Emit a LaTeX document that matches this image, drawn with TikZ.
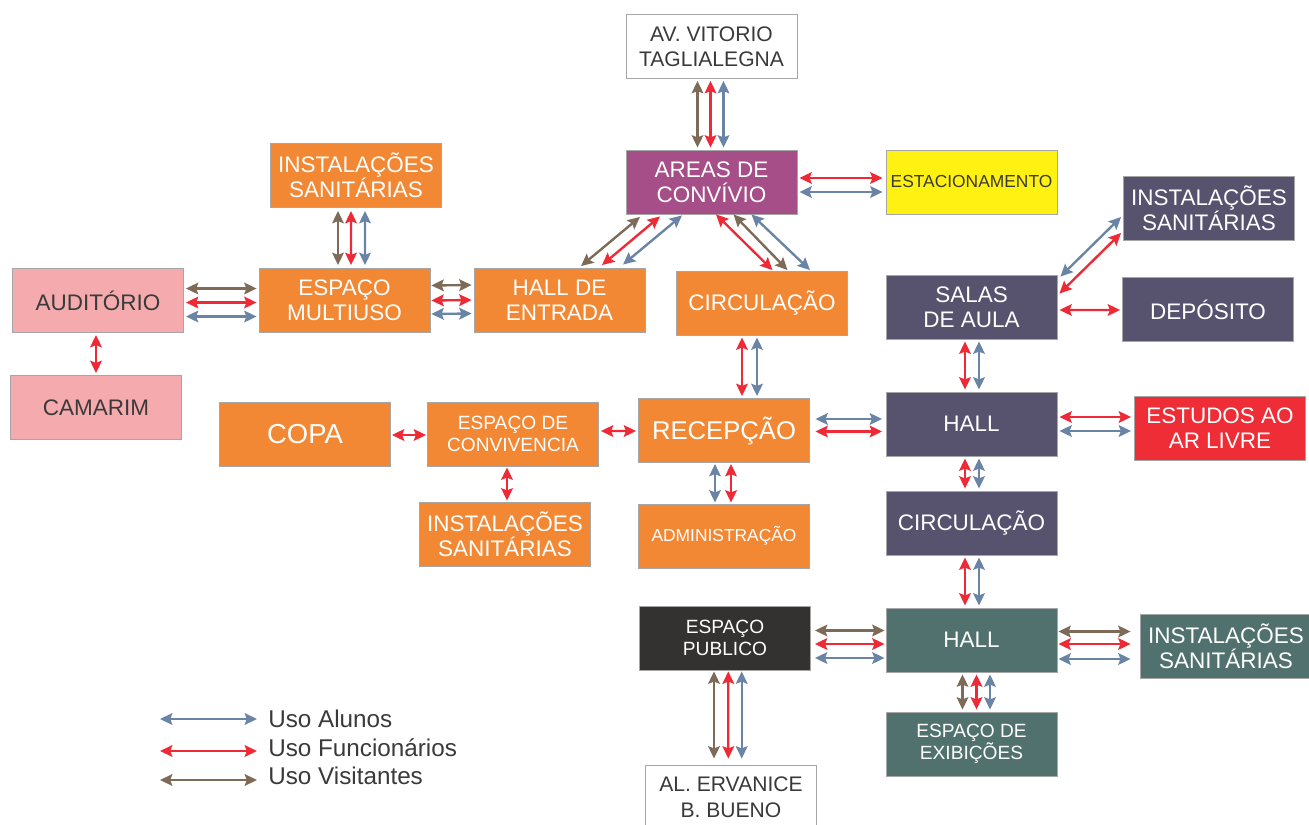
\documentclass[tikz,border=0pt]{standalone}
\usepackage{fontspec}
\setmainfont{Liberation Sans}
\usetikzlibrary{arrows.meta,calc}
\definecolor{corLaranja}{HTML}{F28834}
\definecolor{corRosa}{HTML}{F5AAAD}
\definecolor{corRoxo}{HTML}{A54E87}
\definecolor{corAmarelo}{HTML}{FFF212}
\definecolor{corArdosia}{HTML}{57536F}
\definecolor{corVermelho}{HTML}{EE2D36}
\definecolor{corVerde}{HTML}{50716E}
\definecolor{corEscuro}{HTML}{333230}
\definecolor{corTexto}{HTML}{3A3A3A}
\definecolor{corAlu}{HTML}{6A84A6}
\definecolor{corFun}{HTML}{EE2A36}
\definecolor{corVis}{HTML}{7D6B57}
\begin{document}
\begin{tikzpicture}[x=0.02cm,y=-0.02cm,
	sala/.style={draw=black!35,line width=0.5pt,minimum width=3.42cm,minimum height=1.28cm,inner sep=0pt,align=center,text=white,font=\fontsize{12.8}{14.4}\selectfont},
	laranja/.style={sala,fill=corLaranja},
	rosa/.style={sala,fill=corRosa,text=corTexto},
	roxo/.style={sala,fill=corRoxo},
	amarelo/.style={sala,fill=corAmarelo,text=corTexto},
	ardosia/.style={sala,fill=corArdosia},
	vermelho/.style={sala,fill=corVermelho},
	verde/.style={sala,fill=corVerde},
	escuro/.style={sala,fill=corEscuro},
	rua/.style={sala,fill=white,text=corTexto,font=\fontsize{12}{14.5}\selectfont},
	pequeno/.style={font=\fontsize{10.9}{12.4}\selectfont},
	minimo/.style={font=\fontsize{9.9}{12}\selectfont},
	seta/.style={line width=1.35pt,>={Stealth[length=7pt,width=6.6pt,inset=1.2pt]},<->},
	alu/.style={seta,draw=corAlu},
	fun/.style={seta,draw=corFun},
	vis/.style={seta,draw=corVis}]
	\useasboundingbox (0,0) rectangle (1309,825);
	\node[rua] (av) at (711.5,46.5) {AV. VITORIO\\TAGLIALEGNA};
	\node[roxo] (areas) at (711.5,182) {AREAS DE\\CONVÍVIO};
	\node[amarelo,minimo] (estac) at (971.5,182) {ESTACIONAMENTO};
	\node[laranja] (instl1) at (356,175.5) {INSTALAÇÕES\\SANITÁRIAS};
	\node[rosa] (aud) at (98,300.5) {AUDITÓRIO};
	\node[laranja] (multi) at (344.5,300.5) {ESPAÇO\\MULTIUSO};
	\node[laranja] (halle) at (559.5,300) {HALL DE\\ENTRADA};
	\node[laranja] (circ1) at (762,303) {CIRCULAÇÃO};
	\node[rosa] (camarim) at (96,407.5) {CAMARIM};
	\node[laranja,font=\fontsize{15.6}{18}\selectfont] (copa) at (305,434) {COPA};
	\node[laranja,pequeno] (conv) at (513,434) {ESPAÇO DE\\CONVIVENCIA};
	\node[laranja,font=\fontsize{14.6}{17}\selectfont] (recep) at (724,430.5) {RECEPÇÃO};
	\node[laranja] (instl2) at (505,534) {INSTALAÇÕES\\SANITÁRIAS};
	\node[laranja,minimo] (admin) at (724,536) {ADMINISTRAÇÃO};
	\node[ardosia] (salas) at (971.5,307) {SALAS\\DE AULA};
	\node[ardosia] (instl3) at (1209,208) {INSTALAÇÕES\\SANITÁRIAS};
	\node[ardosia] (depos) at (1208,309.5) {DEPÓSITO};
	\node[ardosia] (hall1) at (971.5,424) {HALL};
	\node[vermelho] (estud) at (1220,428) {ESTUDOS AO\\AR LIVRE};
	\node[ardosia] (circ2) at (971.5,523) {CIRCULAÇÃO};
	\node[verde] (hall2) at (971.5,640) {HALL};
	\node[escuro,pequeno] (pub) at (725,638) {ESPAÇO\\PUBLICO};
	\node[verde] (instl4) at (1226,646) {INSTALAÇÕES\\SANITÁRIAS};
	\node[verde,pequeno] (exib) at (971.5,744) {ESPAÇO DE\\EXIBIÇÕES};
	\node[rua] (alerv) at (731,797) {AL. ERVANICE\\B. BUENO};
	\draw[vis] ($(av.south)+(-14,2)$) -- ($(areas.north)+(-14,-2)$);
	\draw[fun] ($(av.south)+(-1,2)$) -- ($(areas.north)+(-1,-2)$);
	\draw[alu] ($(av.south)+(12,2)$) -- ($(areas.north)+(12,-2)$);
	\draw[fun] ($(areas.east)+(2,-4)$) -- ($(estac.west)+(-3,-4)$);
	\draw[alu] ($(areas.east)+(2,10)$) -- ($(estac.west)+(-3,10)$);
	\draw[vis] ($(instl1.south)+(-18,3)$) -- ($(multi.north)+(-6.5,-3)$);
	\draw[fun] ($(instl1.south)+(-5,3)$) -- ($(multi.north)+(6.5,-3)$);
	\draw[alu] ($(instl1.south)+(9,3)$) -- ($(multi.north)+(20.5,-3)$);
	\draw[vis] ($(aud.east)+(2,-12)$) -- ($(multi.west)+(-2,-12)$);
	\draw[fun] ($(aud.east)+(2,2)$) -- ($(multi.west)+(-2,2)$);
	\draw[alu] ($(aud.east)+(2,16)$) -- ($(multi.west)+(-2,16)$);
	\draw[vis] ($(multi.east)+(1,-15)$) -- ($(halle.west)+(-2,-15)$);
	\draw[fun] ($(multi.east)+(1,0)$) -- ($(halle.west)+(-2,0)$);
	\draw[alu] ($(multi.east)+(1,13.5)$) -- ($(halle.west)+(-2,13.5)$);
	\draw[fun] ($(aud.south)+(-2,2)$) -- ($(camarim.north)+(0,-2)$);
	\draw[vis] ($(halle.north)+(21.5,-1.5)$) -- ($(areas.south)+(-71.5,2.5)$);
	\draw[fun] ($(halle.north)+(42.5,-2.5)$) -- ($(areas.south)+(-51.5,2)$);
	\draw[alu] ($(halle.north)+(63.5,-3)$) -- ($(areas.south)+(-29.5,1)$);
	\draw[fun] ($(areas.south)+(4.5,0)$) -- ($(circ1.north)+(10.5,-0.5)$);
	\draw[vis] ($(areas.south)+(22,0)$) -- ($(circ1.north)+(25.5,-0.5)$);
	\draw[alu] ($(areas.south)+(40,0)$) -- ($(circ1.north)+(48,-0.5)$);
	\draw[fun] ($(circ1.south)+(-20,2)$) -- ($(recep.north)+(18,-2)$);
	\draw[alu] ($(circ1.south)+(-5,2)$) -- ($(recep.north)+(33,-2)$);
	\draw[fun] ($(conv.east)+(2,-3)$) -- ($(recep.west)+(-2,0.5)$);
	\draw[fun] ($(copa.east)+(1,1)$) -- ($(conv.west)+(-1,1)$);
	\draw[fun] ($(conv.south)+(-6,1)$) -- ($(instl2.north)+(2,-1)$);
	\draw[alu] ($(recep.south)+(-9,1)$) -- ($(admin.north)+(-9,-1)$);
	\draw[fun] ($(recep.south)+(7,1)$) -- ($(admin.north)+(7,-1)$);
	\draw[alu] ($(recep.east)+(5.5,-11.5)$) -- ($(hall1.west)+(-3.5,-5)$);
	\draw[fun] ($(recep.east)+(5.5,1)$) -- ($(hall1.west)+(-3.5,7.5)$);
	\draw[alu] ($(salas.north east)+(3,2)$) -- ($(instl3.west)+(-2,9)$);
	\draw[fun] ($(salas.north east)+(2,19)$) -- ($(instl3.west)+(-2,25)$);
	\draw[fun] ($(salas.east)+(2,3)$) -- ($(depos.west)+(-2,0.5)$);
	\draw[fun] ($(salas.south)+(-6.5,2)$) -- ($(hall1.north)+(-6.5,-2)$);
	\draw[alu] ($(salas.south)+(7.5,2)$) -- ($(hall1.north)+(7.5,-2)$);
	\draw[fun] ($(hall1.east)+(2,-7)$) -- ($(estud.west)+(-3,-11)$);
	\draw[alu] ($(hall1.east)+(2,7)$) -- ($(estud.west)+(-3,3)$);
	\draw[fun] ($(hall1.south)+(-6.5,2)$) -- ($(circ2.north)+(-6.5,-2)$);
	\draw[alu] ($(hall1.south)+(7.5,2)$) -- ($(circ2.north)+(7.5,-2)$);
	\draw[fun] ($(circ2.south)+(-6.5,2)$) -- ($(hall2.north)+(-6.5,-2)$);
	\draw[alu] ($(circ2.south)+(7.5,2)$) -- ($(hall2.north)+(7.5,-2)$);
	\draw[vis] ($(pub.east)+(4,-7.5)$) -- ($(hall2.west)+(-1,-9.5)$);
	\draw[fun] ($(pub.east)+(4,6)$) -- ($(hall2.west)+(-1,4)$);
	\draw[alu] ($(pub.east)+(4,20)$) -- ($(hall2.west)+(-1,18)$);
	\draw[vis] ($(hall2.east)+(1,-8.5)$) -- ($(instl4.west)+(-9.5,-14.5)$);
	\draw[fun] ($(hall2.east)+(1,4)$) -- ($(instl4.west)+(-9.5,-2)$);
	\draw[alu] ($(hall2.east)+(1,19)$) -- ($(instl4.west)+(-9.5,13)$);
	\draw[vis] ($(hall2.south)+(-9,2)$) -- ($(exib.north)+(-9,-2)$);
	\draw[fun] ($(hall2.south)+(5,2)$) -- ($(exib.north)+(5,-2)$);
	\draw[alu] ($(hall2.south)+(18.5,2)$) -- ($(exib.north)+(18.5,-2)$);
	\draw[vis] ($(pub.south)+(-11,1)$) -- ($(alerv.north)+(-17,-6)$);
	\draw[fun] ($(pub.south)+(3.3,1)$) -- ($(alerv.north)+(-2.7,-6)$);
	\draw[alu] ($(pub.south)+(16.7,1)$) -- ($(alerv.north)+(10.7,-6)$);
	\node[anchor=west,inner sep=0pt,text=corTexto,font=\fontsize{13.8}{16}\selectfont] (legalu) at (268,719) {Uso Alunos};
	\node[anchor=west,inner sep=0pt,text=corTexto,font=\fontsize{13.8}{16}\selectfont] (legfun) at (268,747.5) {Uso Funcionários};
	\node[anchor=west,inner sep=0pt,text=corTexto,font=\fontsize{13.8}{16}\selectfont] (legvis) at (268,776) {Uso Visitantes};
	\draw[alu] ($(legalu.west)+(-108,0)$) -- ($(legalu.west)+(-11,0)$);
	\draw[fun] ($(legfun.west)+(-108,3.5)$) -- ($(legfun.west)+(-11,3.5)$);
	\draw[vis] ($(legvis.west)+(-108,4)$) -- ($(legvis.west)+(-11,4)$);
\end{tikzpicture}
\end{document}
